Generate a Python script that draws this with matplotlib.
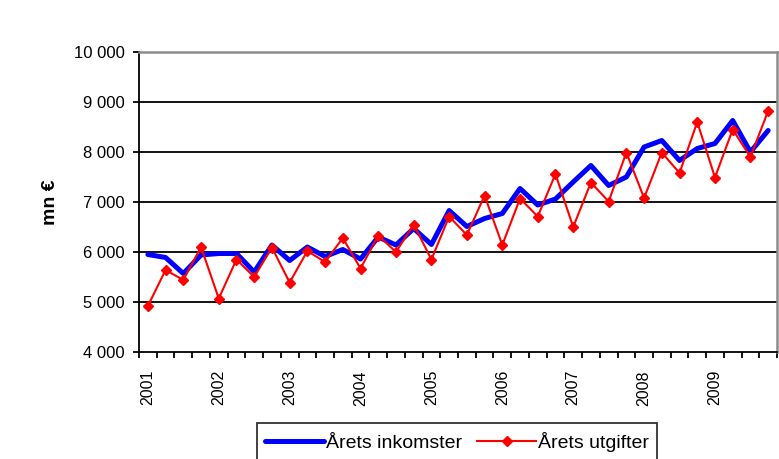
import numpy as np
import matplotlib
matplotlib.use("Agg")
import matplotlib.pyplot as plt
from matplotlib.ticker import FuncFormatter

plt.rcParams['font.family'] = ['Liberation Sans', 'DejaVu Sans']

# quarterly values 2001Q1 .. 2009Q4 (mn €)
years = [str(y) for y in range(2001, 2010)]
inkomster = [5950, 5890, 5570, 5940, 5970, 5970, 5600, 6140, 5830, 6100, 5910, 6050,
             5860, 6300, 6140, 6470, 6150, 6830, 6510, 6670, 6770, 7270, 6940, 7060,
             7400, 7730, 7330, 7500, 8100, 8230, 7830, 8070, 8170, 8630, 8000, 8430]
utgifter = [4920, 5640, 5440, 6100, 5070, 5850, 5500, 6090, 5390, 6020, 5800, 6280,
            5670, 6330, 6000, 6550, 5850, 6710, 6340, 7130, 6140, 7070, 6710, 7560,
            6500, 7390, 7010, 7990, 7080, 7990, 7580, 8600, 7490, 8450, 7900, 8820]
yticks = [4000, 5000, 6000, 7000, 8000, 9000, 10000]

fig = plt.figure(figsize=(7.79, 4.59), dpi=100)
ax = fig.add_axes([139 / 779, 1 - 352 / 459, (777 - 139) / 779, 300 / 459])

x = np.arange(len(inkomster))
ax.plot(x, inkomster, color='#0000ff', lw=3.6, solid_capstyle='round',
        solid_joinstyle='round', label='Årets inkomster', zorder=3)
ax.plot(x, utgifter, color='#ff0000', lw=1.5, marker='D', ms=5.5,
        label='Årets utgifter', zorder=4)

ax.set_xlim(-0.5, len(x) - 0.5)
ax.set_ylim(yticks[0], yticks[-1])

# gridlines (black), top / right border grey like Excel plot area
for v in yticks[1:-1]:
    ax.axhline(v, color='black', lw=1.3, zorder=1)
for s in ['top', 'right']:
    ax.spines[s].set_color('#8c8c8c')
    ax.spines[s].set_linewidth(1.8)
for s in ['left', 'bottom']:
    ax.spines[s].set_color('black')
    ax.spines[s].set_linewidth(1.3)

ax.set_yticks(yticks)
ax.yaxis.set_major_formatter(FuncFormatter(lambda v, p: f"{int(v):,}".replace(',', ' ')))
ax.tick_params(axis='y', direction='out', length=4, width=1.3, pad=6, labelsize=12)

# category boundaries as ticks, year labels under first quarter
ax.set_xticks(np.arange(-0.5, len(x), 1.0))
ax.set_xticklabels([])
ax.tick_params(axis='x', which='major', direction='out', length=4, width=1.3)
ax.set_xticks(np.arange(0, len(x), 4), minor=True)
ax.set_xticklabels(years, minor=True, rotation=90, fontsize=11.5)
ax.tick_params(axis='x', which='minor', length=0, pad=13)

ax.set_ylabel('mn €', fontsize=14, fontweight='bold')
ax.yaxis.set_label_coords(-0.125, 0.5)

leg = fig.legend(loc='upper center', bbox_to_anchor=(457 / 779, 1 - 423 / 459), ncol=2,
                 frameon=True, fancybox=False, edgecolor='black', fontsize=14,
                 handlelength=3.0, handletextpad=0.1, columnspacing=0.8,
                 borderpad=0.45, borderaxespad=0)
leg.get_frame().set_linewidth(1.3)

fig.savefig('out.png', dpi=100)
